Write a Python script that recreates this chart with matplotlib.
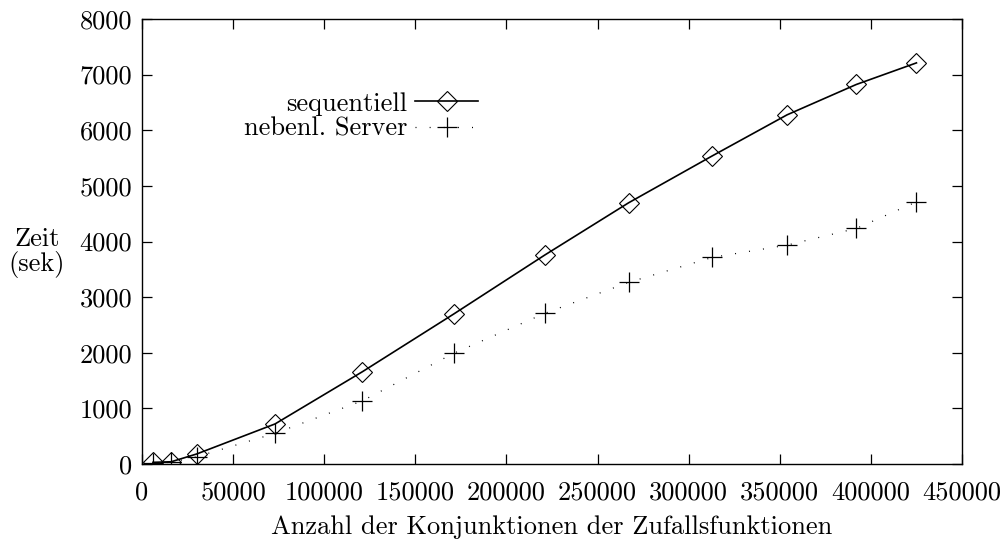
import matplotlib
matplotlib.use("Agg")
import matplotlib.pyplot as plt

# Data
konjunktionen = [6000, 16000, 30000, 73000, 121000, 171000, 221000, 267000, 313000, 354000, 392000, 425000]
sequentiell = [30, 40, 180, 720, 1660, 2695, 3756, 4695, 5540, 6277, 6823, 7211]
server = [20, 30, 130, 551, 1137, 1989, 2708, 3265, 3714, 3935, 4235, 4713]
xticks = [0, 50000, 100000, 150000, 200000, 250000, 300000, 350000, 400000, 450000]
yticks = [0, 1000, 2000, 3000, 4000, 5000, 6000, 7000, 8000]

plt.rcParams['font.family'] = ['cmr10', 'DejaVu Serif']
plt.rcParams['mathtext.fontset'] = 'cm'
plt.rcParams['axes.formatter.use_mathtext'] = True
FS = 19

fig = plt.figure(figsize=(10.04, 5.44), dpi=100)
ax = fig.add_axes([142/1004, 1 - 464/544, 820/1004, 445/544])

ax.plot(konjunktionen, sequentiell, color='black', lw=1.2, marker='D', ms=10,
        mfc='none', mec='black', mew=0.8, label='sequentiell')
ax.plot(konjunktionen, server, color='black', lw=0.9, linestyle=(0, (0.8, 10.5)),
        marker='+', ms=14, mew=0.9, label='nebenl. Server')

ax.set_xlim(0, 450000)
ax.set_ylim(0, 8000)
ax.set_xticks(xticks)
ax.set_yticks(yticks)
ax.set_xticklabels([str(v) for v in xticks])
ax.set_yticklabels([str(v) for v in yticks])
ax.tick_params(direction='in', length=7, width=0.9, top=True, right=True,
               labelsize=FS, pad=7)
ax.tick_params(axis='x', pad=12)
for s in ax.spines.values():
    s.set_linewidth(1.0)

ax.set_xlabel('Anzahl der Konjunktionen der Zufallsfunktionen', fontsize=FS, labelpad=8)
ax.set_ylabel('Zeit\n(sek)', fontsize=FS, rotation=0, ha='center', va='center',
              linespacing=1.0)
ax.yaxis.set_label_coords(-0.128, 0.475)

leg = ax.legend(loc='upper right', bbox_to_anchor=(0.41, 0.836), frameon=False,
                markerfirst=False, fontsize=FS, handlelength=2.4, handletextpad=0.3,
                labelspacing=0.05, borderpad=0, borderaxespad=0)

fig.savefig('out.png', dpi=100)
